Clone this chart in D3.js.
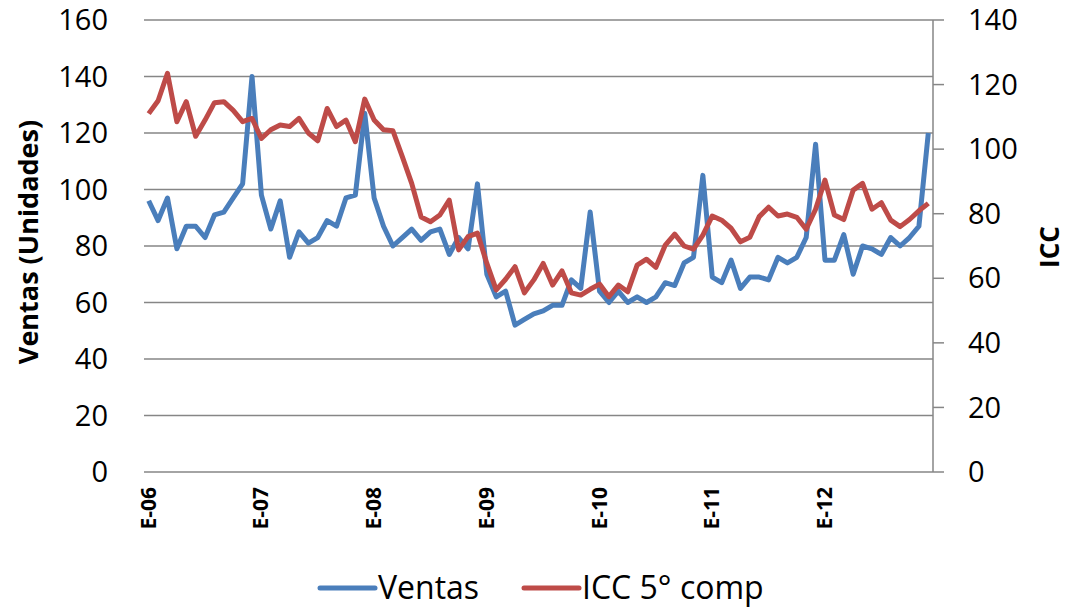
<!DOCTYPE html>
<html>
<head>
<meta charset="utf-8">
<script src="https://cdn.jsdelivr.net/npm/d3@7"></script>
<style>
  body { margin: 0; background: #fff; }
  svg { display: block; font-family: "Open Sans", "Noto Sans", sans-serif; }
</style>
</head>
<body>
<div id="chart"></div>
<script>
// monthly categories, Jan 2006 .. Dec 2012
var years = ['06', '07', '08', '09', '10', '11', '12']
var months = ['Ene', 'Feb', 'Mar', 'Abr', 'May', 'Jun', 'Jul', 'Ago', 'Sep', 'Oct', 'Nov', 'Dic']
var categories = []
years.forEach(function(y) {
  months.forEach(function(m) { categories.push(m + '-' + y) })
})
// only january is labelled, as "E-yy"
var tickLabels = years.map(y => 'E-' + y)

var ventas = [
  96, 89, 97, 79, 87, 87, 83, 91, 92, 97, 102, 140,
  98, 86, 96, 76, 85, 81, 83, 89, 87, 97, 98, 127,
  97, 87, 80, 83, 86, 82, 85, 86, 77, 83, 79, 102,
  70, 62, 64, 52, 54, 56, 57, 59, 59, 68, 65, 92,
  64, 60, 64, 60, 62, 60, 62, 67, 66, 74, 76, 105,
  69, 67, 75, 65, 69, 69, 68, 76, 74, 76, 83, 116,
  75, 75, 84, 70, 80, 79, 77, 83, 80, 83, 87, 120
]
var icc = [
  111, 115, 123.5, 108.5, 114.7, 104, 109, 114.4, 114.7, 112, 108.5, 109.5,
  103.3, 106, 107.5, 107, 109.5, 105, 102.6, 112.6, 107, 109, 102.3, 115.5,
  109, 106, 105.7, 97.7, 89.4, 79, 77.5, 79.6, 84.2, 68.8, 72.9, 74,
  64.6, 56.4, 59.7, 63.6, 55.5, 59.5, 64.6, 57.9, 62.3, 55.5, 54.8, 56.6,
  58.2, 54.3, 57.9, 55.8, 64.1, 65.9, 63.4, 70.3, 73.7, 70, 69, 73.4,
  79.3, 78, 75.5, 71.3, 72.7, 79.1, 82, 79.3, 79.9, 78.9, 75.2, 81.4,
  90.4, 79.6, 78.2, 87.3, 89.4, 81.4, 83.4, 78, 76, 78.2, 80.9, 83.2
]
var leftTicks = [0, 20, 40, 60, 80, 100, 120, 140, 160]
var rightTicks = [0, 20, 40, 60, 80, 100, 120, 140]
var seriesNames = ['Ventas', 'ICC 5° comp']

var W = 1066, H = 608
var plotL = 144, plotR = 933, plotT = 20, plotB = 472
var blue = '#4a7ebb', red = '#be4b48', grid = '#868686'

var svg = d3.select('#chart').append('svg')
  .attr('width', W)
  .attr('height', H)

var x = d3.scalePoint()
  .domain(categories)
  .range([plotL, plotR])
  .padding(0.5)
var yL = d3.scaleLinear().domain([0, 160]).range([plotB, plotT])
var yR = d3.scaleLinear().domain([0, 140]).range([plotB, plotT])

// gridlines from left axis
svg.append('g')
  .selectAll('line')
  .data(leftTicks)
  .join('line')
    .attr('x1', plotL)
    .attr('x2', plotR)
    .attr('y1', d => yL(d))
    .attr('y2', d => yL(d))
    .style('stroke', grid)
    .style('stroke-width', 1.5)

// left axis labels
svg.append('g')
  .selectAll('text')
  .data(leftTicks)
  .join('text')
    .attr('x', 108)
    .attr('y', d => yL(d))
    .attr('dy', '0.35em')
    .attr('text-anchor', 'end')
    .style('font-size', '29px')
    .text(d => d)

// right axis
var rAxis = svg.append('g')
rAxis.append('line')
  .attr('x1', plotR).attr('x2', plotR)
  .attr('y1', plotT).attr('y2', plotB)
  .style('stroke', grid)
  .style('stroke-width', 1.5)
rAxis.selectAll('line.tick')
  .data(rightTicks)
  .join('line')
    .attr('class', 'tick')
    .attr('x1', plotR).attr('x2', plotR + 11)
    .attr('y1', d => yR(d)).attr('y2', d => yR(d))
    .style('stroke', grid)
    .style('stroke-width', 1.5)
rAxis.selectAll('text')
  .data(rightTicks)
  .join('text')
    .attr('x', 968)
    .attr('y', d => yR(d))
    .attr('dy', '0.35em')
    .style('font-size', '29px')
    .text(d => d)

// x labels, every january
svg.append('g')
  .selectAll('text')
  .data(tickLabels)
  .join('text')
    .attr('transform', (d, i) => `translate(${x(categories[i * 12]) + 7}, 487) rotate(-90)`)
    .attr('text-anchor', 'end')
    .style('font-size', '21px')
    .style('font-weight', 'bold')
    .text(d => d)

// axis titles
svg.append('text')
  .attr('transform', 'translate(38, 242) rotate(-90)')
  .attr('text-anchor', 'middle')
  .style('font-size', '27px')
  .style('font-weight', 'bold')
  .text('Ventas (Unidades)')
svg.append('text')
  .attr('transform', 'translate(1059, 247) rotate(-90)')
  .attr('text-anchor', 'middle')
  .style('font-size', '26px')
  .style('font-weight', 'bold')
  .text('ICC')

// lines
var lineL = d3.line()
  .x((d, i) => x(categories[i]))
  .y(d => yL(d))
var lineR = d3.line()
  .x((d, i) => x(categories[i]))
  .y(d => yR(d))

svg.append('path')
  .datum(ventas)
  .attr('d', lineL)
  .style('fill', 'none')
  .style('stroke', blue)
  .style('stroke-width', 5)
  .style('stroke-linejoin', 'round')
svg.append('path')
  .datum(icc)
  .attr('d', lineR)
  .style('fill', 'none')
  .style('stroke', red)
  .style('stroke-width', 5)
  .style('stroke-linejoin', 'round')

// legend
var legend = svg.append('g')
var legendItems = [
  { name: seriesNames[0], color: blue, x: 320 },
  { name: seriesNames[1], color: red, x: 524 }
]
legend.selectAll('line')
  .data(legendItems)
  .join('line')
    .attr('x1', d => d.x).attr('x2', d => d.x + 55)
    .attr('y1', 588).attr('y2', 588)
    .style('stroke', d => d.color)
    .style('stroke-width', 5)
    .style('stroke-linecap', 'round')
legend.selectAll('text')
  .data(legendItems)
  .join('text')
    .attr('x', d => d.x + 58)
    .attr('y', 588)
    .attr('dy', '0.35em')
    .style('font-size', '32px')
    .text(d => d.name)
</script>
</body>
</html>
